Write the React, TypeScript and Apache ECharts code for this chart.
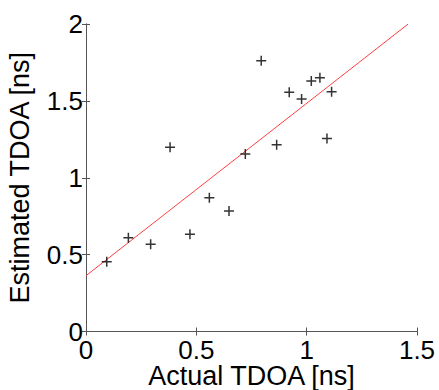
import React, { useEffect, useRef } from "react";
import * as echarts from "echarts";

const actualTdoa = [0.094, 0.192, 0.293, 0.381, 0.471, 0.559, 0.648, 0.722, 0.794, 0.864, 0.921, 0.977, 1.021, 1.060, 1.092, 1.113];
const estimatedTdoa = [0.454, 0.610, 0.567, 1.198, 0.632, 0.870, 0.784, 1.154, 1.761, 1.215, 1.556, 1.512, 1.629, 1.651, 1.256, 1.560];
const fitX = [0, 1.46];
const fitY = [0.363, 2.0];
const xTicks = [0, 0.5, 1, 1.5];
const yTicks = [0, 0.5, 1, 1.5, 2];

const FONT = "'Liberation Sans', Arial, Helvetica, sans-serif";
const PLUS = "path://M0,4.25h10v1.5H0z M4.25,0h1.5v10H4.25z";

export default function App() {
  const ref = useRef<HTMLDivElement>(null);
  useEffect(() => {
    if (!ref.current) return;
    const chart = echarts.init(ref.current, undefined, { renderer: "svg" });
    const axisLine = { show: true, lineStyle: { color: "#555", width: 1 } };
    const tick = { show: true, inside: true, length: 4, lineStyle: { color: "#555", width: 1 } };
    const label = { color: "#000", fontSize: 26, fontFamily: FONT };
    chart.setOption({
      animation: false,
      backgroundColor: "#fff",
      grid: { left: 86, top: 24, right: 22, bottom: 58.5, containLabel: false, outerBoundsMode: "none" },
      xAxis: [
        {
          type: "value",
          min: xTicks[0],
          max: xTicks[xTicks.length - 1],
          interval: 0.5,
          position: "bottom",
          axisLine,
          axisTick: tick,
          splitLine: { show: false },
          axisLabel: { ...label, margin: 5 },
          name: "Actual TDOA [ns]",
          nameLocation: "middle",
          nameGap: 31,
          nameMoveOverlap: false,
          nameTextStyle: { color: "#000", fontSize: 27, fontFamily: FONT },
        },
        {
          type: "value",
          min: xTicks[0],
          max: xTicks[xTicks.length - 1],
          interval: 0.5,
          position: "top",
          axisLine,
          axisTick: tick,
          splitLine: { show: false },
          axisLabel: { show: false },
        },
      ],
      yAxis: [
        {
          type: "value",
          min: yTicks[0],
          max: yTicks[yTicks.length - 1],
          interval: 0.5,
          position: "left",
          axisLine,
          axisTick: tick,
          splitLine: { show: false },
          axisLabel: { ...label, margin: 3 },
          name: "Estimated TDOA [ns]",
          nameLocation: "middle",
          nameRotate: 90,
          nameGap: 53,
          nameMoveOverlap: false,
          nameTextStyle: { color: "#000", fontSize: 27, fontFamily: FONT },
        },
        {
          type: "value",
          min: yTicks[0],
          max: yTicks[yTicks.length - 1],
          interval: 0.5,
          position: "right",
          axisLine,
          axisTick: tick,
          splitLine: { show: false },
          axisLabel: { show: false },
        },
      ],
      series: [
        {
          type: "line",
          data: fitX.map((x, i) => [x, fitY[i]]),
          showSymbol: false,
          symbol: "none",
          lineStyle: { color: "#ff4040", width: 1 },
          silent: true,
          z: 2,
        },
        {
          type: "scatter",
          data: actualTdoa.map((x, i) => [x, estimatedTdoa[i]]),
          symbol: PLUS,
          symbolSize: 10,
          itemStyle: { color: "#000" },
          z: 3,
        },
      ],
    });
    return () => chart.dispose();
  }, []);
  return (
    <div
      ref={ref}
      style={{ position: "fixed", left: 0, top: 0, width: 439, height: 390, background: "#fff" }}
    />
  );
}
